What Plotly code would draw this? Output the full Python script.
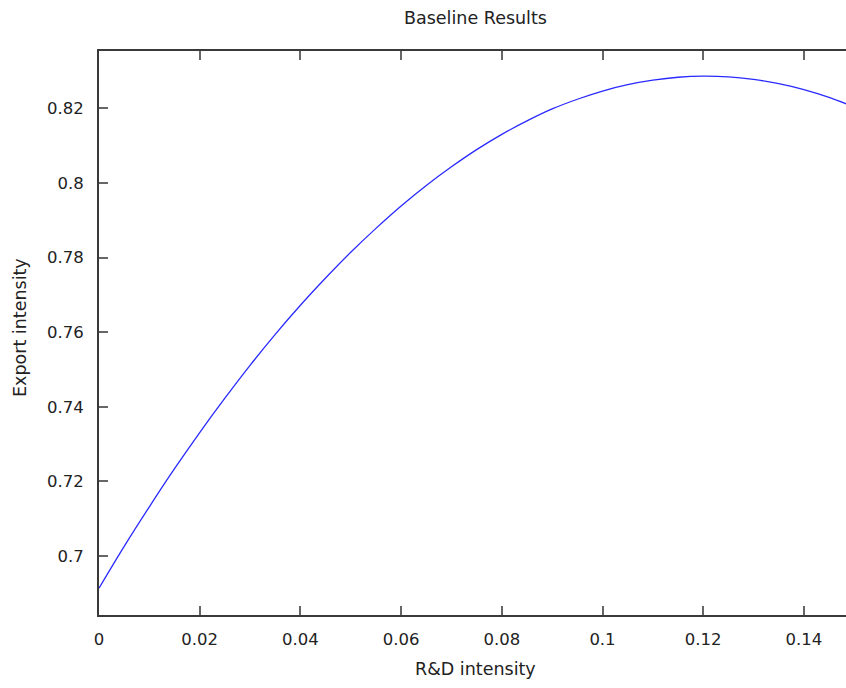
import plotly.graph_objects as go

# R&D intensity (x) and fitted export intensity (y) sampled along the curve
rd_intensity = [0.000, 0.005, 0.010, 0.015, 0.020, 0.025, 0.030, 0.035, 0.040,
                0.045, 0.050, 0.055, 0.060, 0.065, 0.070, 0.075, 0.080, 0.085,
                0.090, 0.095, 0.100, 0.105, 0.110, 0.115, 0.120, 0.125, 0.130,
                0.135, 0.140, 0.145, 0.150]
export_intensity = [0.6914, 0.7026, 0.7132, 0.7234, 0.7331, 0.7423, 0.7511, 0.7594,
                    0.7672, 0.7745, 0.7814, 0.7878, 0.7938, 0.7993, 0.8043, 0.8089,
                    0.8130, 0.8166, 0.8198, 0.8224, 0.8246, 0.8263, 0.8275, 0.8283,
                    0.8286, 0.8284, 0.8277, 0.8266, 0.8250, 0.8229, 0.8203]

x_ticks = [0, 0.02, 0.04, 0.06, 0.08, 0.10, 0.12, 0.14]
x_tick_labels = ["0", "0.02", "0.04", "0.06", "0.08", "0.1", "0.12", "0.14"]
y_ticks = [0.70, 0.72, 0.74, 0.76, 0.78, 0.80, 0.82]
y_tick_labels = ["0.7", "0.72", "0.74", "0.76", "0.78", "0.8", "0.82"]

W, H = 846, 688
L, R, T, B = 99, 0, 51, 73
FONT = "DejaVu Sans"
TEXT_COLOR = "#222222"

fig = go.Figure()
fig.add_trace(go.Scatter(
    x=rd_intensity, y=export_intensity, mode="lines",
    line=dict(color="#2a2aff", width=1.3, shape="spline"),
    hoverinfo="skip", showlegend=False,
))

axis_common = dict(
    showgrid=False, zeroline=False, showline=True,
    linecolor="#3a3a3a", linewidth=2,
    ticks="inside", ticklen=9, tickwidth=2, tickcolor="#666666",
    tickfont=dict(family=FONT, size=16.5, color=TEXT_COLOR),
)

fig.update_xaxes(
    range=[0, (W - L) / 5035.0], tickvals=x_ticks, ticktext=x_tick_labels,
    mirror="ticks", ticklabelstandoff=8, **axis_common,
)
fig.update_yaxes(
    range=[0.68421, 0.83533], tickvals=y_ticks, ticktext=y_tick_labels,
    mirror=False, ticklabelstandoff=10, **axis_common,
)

pw = W - L - R
ph = H - T - B


def px_x(px):
    return (px - L) / pw


def px_y(py):
    return (H - B - py) / ph


def label(text, x, y, angle=0):
    return dict(text=text, x=px_x(x), y=px_y(y), xref="paper", yref="paper",
                showarrow=False, xanchor="center", yanchor="middle", textangle=angle,
                font=dict(family=FONT, size=17.5, color=TEXT_COLOR))


fig.update_layout(
    width=W, height=H,
    margin=dict(l=L, r=R, t=T, b=B),
    paper_bgcolor="white", plot_bgcolor="white",
    font=dict(family=FONT, size=16, color=TEXT_COLOR),
    annotations=[
        label("Baseline Results", 475, 18),
        label("R&D intensity", 475, 669),
        label("Export intensity", 20, 328, angle=-90),
    ],
)

fig.write_html("out.html")
